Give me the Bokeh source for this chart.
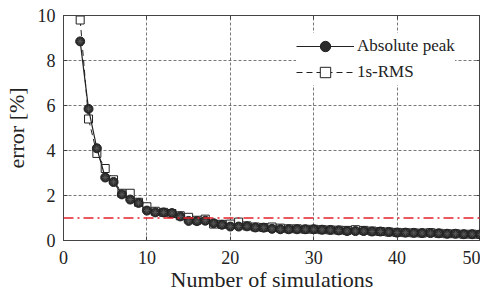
from bokeh.plotting import figure
from bokeh.models import LinearAxis, Legend, LegendItem, Span, FixedTicker
from bokeh.embed import file_html
from bokeh.resources import INLINE

n_sims = list(range(2, 51))
abs_peak = [8.85, 5.85, 4.1, 2.8, 2.6, 2.05, 1.82, 1.67, 1.33, 1.25, 1.25, 1.22, 1.07, 0.87, 0.86, 0.88,
            0.77, 0.7, 0.62, 0.62, 0.63, 0.58, 0.57, 0.52, 0.5, 0.5, 0.5, 0.5, 0.5, 0.48, 0.47, 0.45,
            0.42, 0.42, 0.42, 0.4, 0.4, 0.38, 0.35, 0.35, 0.34, 0.33, 0.33, 0.32, 0.3, 0.3, 0.28, 0.28, 0.27]
rms_1s = [9.8, 5.4, 3.87, 3.2, 2.7, 2.1, 2.1, 1.7, 1.5, 1.3, 1.25, 1.2, 1.1, 1.03, 0.9, 0.95,
          0.73, 0.72, 0.73, 0.82, 0.65, 0.6, 0.58, 0.6, 0.55, 0.52, 0.52, 0.5, 0.5, 0.48, 0.47, 0.46,
          0.45, 0.48, 0.45, 0.42, 0.4, 0.38, 0.36, 0.35, 0.34, 0.33, 0.35, 0.32, 0.3, 0.3, 0.28, 0.28, 0.27]
threshold = 1.0
x_ticks = [0, 10, 20, 30, 40, 50]
y_ticks = [0, 2, 4, 6, 8, 10]

FONT = "Liberation Serif"

p = figure(width=480, height=294, x_range=(0, 50), y_range=(0, 10),
           output_backend="svg", toolbar_location=None,
           min_border_left=63, min_border_right=0, min_border_top=15, min_border_bottom=54)

p.outline_line_color = "#444444"
p.outline_line_width = 1
p.background_fill_color = "white"
p.border_fill_color = "white"

for ax in [p.xaxis[0], p.yaxis[0]]:
    ax.major_label_text_font = FONT
    ax.major_label_text_font_size = "18px"
    ax.major_label_text_color = "#222222"
    ax.axis_label_text_font = FONT
    ax.axis_label_text_font_size = "22px"
    ax.axis_label_text_font_style = "normal"
    ax.axis_label_text_color = "#222222"
    ax.major_tick_in = 4
    ax.major_tick_out = 0
    ax.minor_tick_in = 0
    ax.minor_tick_out = 0
    ax.axis_line_color = "#444444"
    ax.major_tick_line_color = "#444444"

p.xaxis.ticker = FixedTicker(ticks=x_ticks)
p.yaxis.ticker = FixedTicker(ticks=y_ticks)
p.xaxis.axis_label = "Number of simulations"
p.yaxis.axis_label = "error [%]"
p.xaxis.axis_label_standoff = 0
p.yaxis.axis_label_standoff = 6
p.xaxis.major_label_standoff = 10
p.yaxis.major_label_standoff = 8

for loc, ticks in [("above", x_ticks), ("right", y_ticks)]:
    a = LinearAxis(ticker=FixedTicker(ticks=ticks),
                   major_label_overrides={t: "" for t in ticks},
                   major_label_text_font_size="6px",
                   major_tick_in=4, major_tick_out=0, minor_tick_in=0, minor_tick_out=0,
                   axis_line_color="#444444", major_tick_line_color="#444444",
                   major_label_standoff=0)
    p.add_layout(a, loc)

p.xgrid.grid_line_color = "#555555"
p.ygrid.grid_line_color = "#555555"
p.xgrid.grid_line_dash = "3 2"
p.ygrid.grid_line_dash = "3 2"
p.xgrid.grid_line_width = 0.8
p.ygrid.grid_line_width = 0.8

thr = Span(location=threshold, dimension="width", line_color="#e8202a",
           line_dash="10 4 2 4", line_width=1.3)
p.add_layout(thr)

r_rms_line = p.line(n_sims, rms_1s, line_color="#222222", line_dash="6 4", line_width=1)
r_rms_pts = p.scatter(n_sims, rms_1s, marker="square", size=8, fill_color="white",
                      line_color="#222222", line_width=1)
r_pk_line = p.line(n_sims, abs_peak, line_color="#222222", line_width=1.2)
r_pk_pts = p.scatter(n_sims, abs_peak, marker="circle", size=9, fill_color="#2b2b2b",
                     line_color="#222222", line_width=1)
r_pk_star = p.scatter(n_sims, abs_peak, marker="asterisk", size=6, line_color="#5a5a5a",
                      line_width=0.8)

legend = Legend(items=[
    LegendItem(label="Absolute peak", renderers=[r_pk_line, r_pk_pts]),
    LegendItem(label="1s-RMS", renderers=[r_rms_line, r_rms_pts]),
], location=(233, 155))
legend.label_text_font = FONT
legend.label_text_font_size = "17px"
legend.label_text_color = "#222222"
legend.glyph_width = 58
legend.glyph_height = 26
legend.label_height = 26
legend.label_standoff = 3
legend.spacing = 0
legend.padding = 3
legend.margin = 0
legend.border_line_color = None
legend.background_fill_color = "white"
legend.background_fill_alpha = 1.0
p.add_layout(legend)

open("out.html", "w").write(file_html(p, INLINE))
